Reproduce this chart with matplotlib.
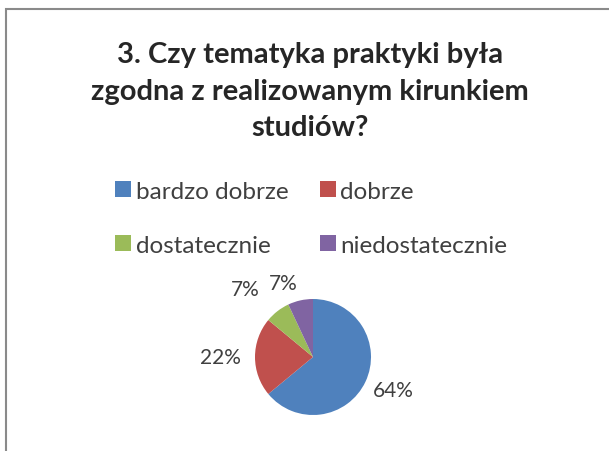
import matplotlib
matplotlib.use('Agg')
import numpy as np
import matplotlib.pyplot as plt
from matplotlib.patches import Rectangle, Patch

# survey answers, share of respondents
categories = ['bardzo dobrze', 'dobrze', 'dostatecznie', 'niedostatecznie']
shares = [64, 22, 7, 7]
colors = ['#4F81BD', '#C0504D', '#9BBB59', '#8064A2']
title = '3. Czy tematyka praktyki była\nzgodna z realizowanym kirunkiem\nstudiów?'

# label placement around the pie: distance in radii, angle nudge in degrees
label_dist = [1.49, 1.6, 1.65, 1.38]
label_turn = [3, 0, 7, 9]

W, H = 609, 452
plt.rcParams['font.family'] = ['Lato', 'DejaVu Sans']
fig = plt.figure(figsize=(W / 100, H / 100), dpi=100)
fig.patch.set_facecolor('white')

# chart area frame
fig.patches.append(Rectangle((6 / W, -0.05), 1.1, 1 - 10 / H + 0.05,
                             transform=fig.transFigure, fill=False,
                             edgecolor='#8a8a8a', linewidth=1.5))

fig.text(310 / W, 1 - 92 / H, title, ha='center', va='center',
         fontsize=21, fontweight='bold', color='#262626', linespacing=1.5)

# pie
cx, cy, r = 313, 358, 58
ax = fig.add_axes([(cx - r) / W, 1 - (cy + r) / H, 2 * r / W, 2 * r / H])
wedges, _ = ax.pie(shares, colors=colors, startangle=90, counterclock=False,
                   radius=1, wedgeprops=dict(linewidth=0))
ax.set_xlim(-1, 1)
ax.set_ylim(-1, 1)
ax.set_aspect('auto')
ax.axis('off')

for w, val, d, t in zip(wedges, shares, label_dist, label_turn):
    ang = np.deg2rad((w.theta1 + w.theta2) / 2 + t)
    ax.text(d * np.cos(ang), d * np.sin(ang), '%d%%' % val, ha='center',
            va='center', fontsize=15, color='#404040', clip_on=False)

# legend: two rows, filled column-wise
order = [0, 2, 1, 3]
handles = [Patch(facecolor=colors[i], edgecolor='none') for i in order]
labels = [categories[i] for i in order]
fig.legend(handles, labels, ncol=2, loc='upper left',
           bbox_to_anchor=(93 / W, 1 - 160 / H), frameon=False,
           fontsize=17.5, labelcolor='#404040', handlelength=0.65,
           handleheight=0.65, handletextpad=0.2, columnspacing=1.3,
           labelspacing=1.35)

fig.savefig('out.png', dpi=100)
